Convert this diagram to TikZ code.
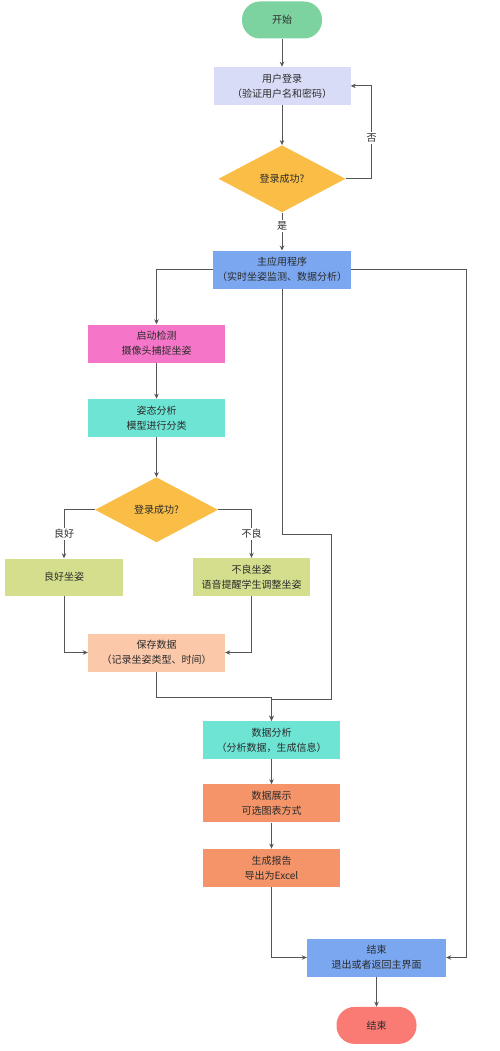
\documentclass[tikz,border=0pt]{standalone}
\usepackage{fontspec}
\usepackage{xcolor}
\usepackage{tikz}
\usetikzlibrary{shapes.geometric, arrows.meta, positioning, calc}
\newfontfamily\cjk{Noto Sans CJK SC}

\definecolor{startgreen}{HTML}{7DD3A0}
\definecolor{loginlav}{HTML}{D8DCF6}
\definecolor{decyellow}{HTML}{FABE46}
\definecolor{mainblue}{HTML}{7BA7F0}
\definecolor{detectpink}{HTML}{F576C8}
\definecolor{poseteal}{HTML}{6EE4D4}
\definecolor{postureolive}{HTML}{D4DE8C}
\definecolor{savepeach}{HTML}{FCC8AA}
\definecolor{reportorange}{HTML}{F59469}
\definecolor{endred}{HTML}{FA7A74}
\definecolor{textgray}{HTML}{2B2B2B}
\definecolor{linegray}{HTML}{555555}

\begin{document}
\begin{tikzpicture}[
    x=1pt, y=-1pt,
    font=\cjk\fontsize{10}{15}\selectfont,
    box/.style={rectangle, fill=#1, text=textgray, align=center,
                minimum width=137pt, minimum height=38pt, inner sep=2pt},
    terminal/.style={rectangle, rounded corners=18pt, fill=#1, text=textgray,
                     minimum width=80pt, minimum height=37pt},
    decision/.style={diamond, fill=decyellow, text=textgray, aspect=1.9,
                     minimum width=127pt, minimum height=67pt, inner sep=0pt},
    arrowstyle/.style={-{Stealth[length=5pt, width=4.5pt]}, line width=0.8pt, draw=linegray},
    lbl/.style={fill=white, text=textgray, inner sep=1.5pt},
]
\useasboundingbox (0,0) rectangle (500,1051);

%% Login part (vertical)
\node[terminal=startgreen] (start) at (282,20) {开始};
\node[box=loginlav, below=28pt of start] (login) {用户登录\\（验证用户名和密码）};
\node[decision, below=40pt of login] (chk1) {登录成功?};
\node[box=mainblue, minimum width=138pt, below=38pt of chk1] (app) {主应用程序\\（实时坐姿监测、数据分析）};

%% Detection branch
\node[box=detectpink] (detect) at (156.5,343.5) {启动检测\\摄像头捕捉坐姿};
\node[box=poseteal, below=36pt of detect] (pose) {姿态分析\\模型进行分类};
\node[decision, minimum width=123pt, minimum height=65pt, below=40pt of pose] (chk2) {登录成功?};
\node[box=postureolive, minimum width=118pt, minimum height=37pt] (good) at (64,577) {良好坐姿};
\node[box=postureolive, minimum width=117pt] (bad) at (251.5,577) {不良坐姿\\语音提醒学生调整坐姿};
\node[box=savepeach] (save) at (156.5,652.5) {保存数据\\（记录坐姿类型、时间）};

%% Analysis part
\node[box=poseteal] (ana) at (271.5,740) {数据分析\\（分析数据，生成信息）};
\node[box=reportorange, below=25pt of ana] (show) {数据展示\\可选图表方式};
\node[box=reportorange, below=26pt of show] (report) {生成报告\\导出为Excel};
\node[box=mainblue, minimum width=139pt] (quit) at (376.5,957.5) {结束\\退出或者返回主界面};
\node[terminal=endred, below=30pt of quit] (stop) {结束};

%% Arrows
\foreach \from/\to in {start/login, login/chk1, detect/pose, pose/chk2, ana/show, show/report, quit/stop}
    \draw[arrowstyle] (\from) -- (\to);

\draw[arrowstyle] (chk1.east) -- ++(26,0) |- node[lbl, pos=0.22] {否} (login.east);
\draw[arrowstyle] (chk1.south) -- node[lbl, pos=0.35] {是} (app.north);
\draw[arrowstyle] (app.west) -| (detect.north);
\draw[arrowstyle] (app.east) -- ++(115,0) |- (quit.east);
\draw[arrowstyle] (app.south) -- ++(0,245) -- ++(49,0) -- ++(0,165) -| (ana.north);
\draw[arrowstyle] (chk2.west) -| node[lbl, pos=0.75] {良好} (good.north);
\draw[arrowstyle] (chk2.east) -| node[lbl, pos=0.75] {不良} (bad.north);
\draw[arrowstyle] (good.south) |- (save.west);
\draw[arrowstyle] (bad.south) |- (save.east);
\draw[arrowstyle] (save.south) -- ++(0,26) -| (ana.north);
\draw[arrowstyle] (report.south) |- (quit.west);

\end{tikzpicture}
\end{document}
